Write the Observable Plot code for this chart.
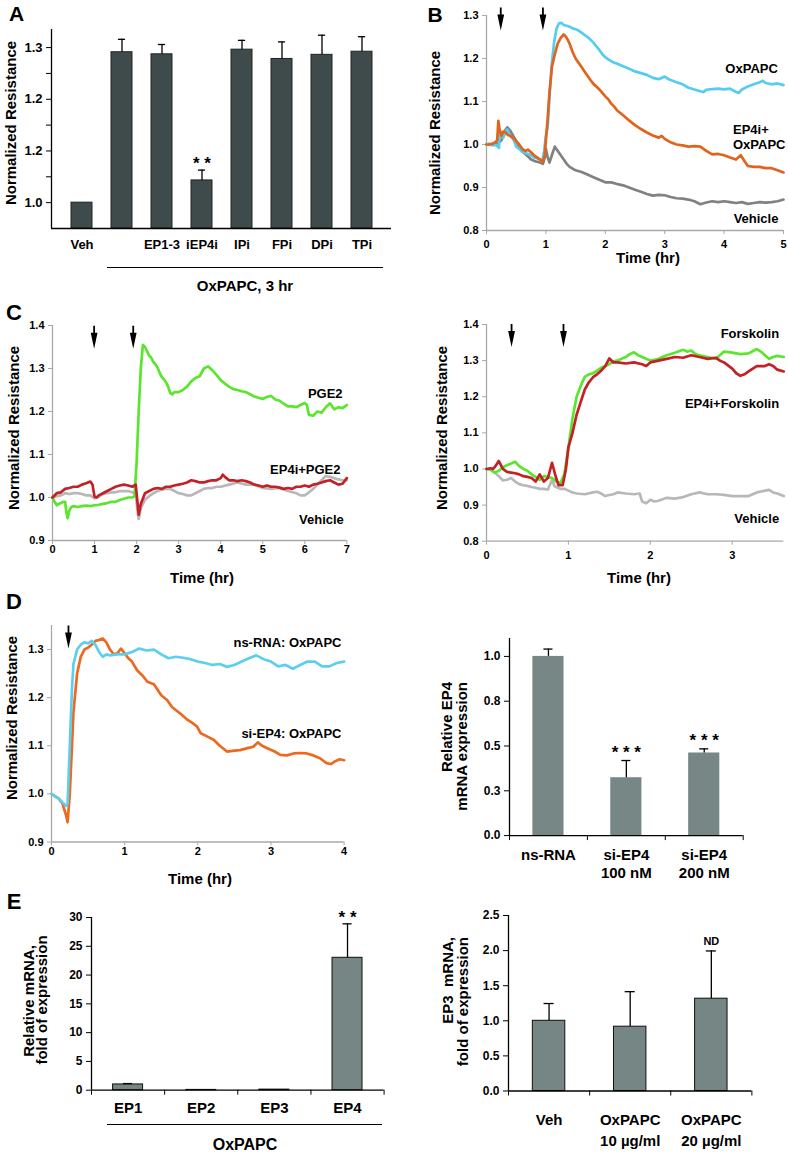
<!DOCTYPE html>
<html><head><meta charset="utf-8">
<script src="https://cdn.jsdelivr.net/npm/d3@7"></script>
<script src="https://cdn.jsdelivr.net/npm/@observablehq/plot@0.6"></script>
<style>
html,body{margin:0;padding:0;background:#fff}
#root{position:relative;width:788px;height:1154px;overflow:hidden;font-family:"Liberation Sans",Arial,Helvetica,sans-serif;font-weight:bold;color:#000;background:#fff}
#root svg{position:absolute;max-width:none}
.t{position:absolute;white-space:nowrap;line-height:1}
.hl{position:absolute;height:0;border-top:1.3px solid #000}
</style></head><body><div id="root"></div>
<script>
// ================= DATA =================
// Panel A
const catsA = ["Veh", "OxPAPC", "EP1-3", "iEP4i", "IPi", "FPi", "DPi", "TPi"];
const tickLabelsA = ["Veh", "", "EP1-3", "iEP4i", "IPi", "FPi", "DPi", "TPi"];
const meansA = [1.0, 1.291, 1.287, 1.043, 1.296, 1.278, 1.286, 1.292];
const errTopA = [null, 1.316, 1.306, 1.063, 1.314, 1.311, 1.324, 1.321];
const starsA = ["", "", "", "* *", "", "", "", ""];
const yTicksA = [1.0, 1.1, 1.2, 1.3];
const yTickLabelsA = ["1.0", "1.2", "1.2", "1.3"];
const yMinorTicksA = [1.05, 1.15, 1.25];

// Panel B (time hr, normalized resistance)
const arrowsB = [0.24, 0.95];
const namesB = ["OxPAPC", "EP4i+\nOxPAPC", "Vehicle"];
const bOxPAPC = [[0,1.0],[0.05,1.002],[0.1,0.998],[0.15,1.0],[0.19,0.995],[0.21,0.992],[0.22,1.028],[0.25,1.02],[0.28,1.015],[0.32,1.03],[0.35,1.035],[0.38,1.025],[0.42,1.018],[0.46,1.01],[0.5,0.995],[0.55,0.99],[0.6,0.983],[0.65,0.98],[0.7,0.978],[0.75,0.975],[0.8,0.97],[0.85,0.968],[0.9,0.965],[0.94,0.962],[0.97,0.985],[1.0,1.02],[1.03,1.04],[1.06,1.11],[1.1,1.19],[1.14,1.24],[1.18,1.27],[1.22,1.282],[1.26,1.283],[1.3,1.278],[1.35,1.276],[1.4,1.274],[1.45,1.27],[1.5,1.268],[1.55,1.265],[1.6,1.26],[1.65,1.255],[1.7,1.25],[1.75,1.244],[1.8,1.237],[1.85,1.228],[1.9,1.22],[1.95,1.21],[2.0,1.203],[2.05,1.198],[2.1,1.194],[2.15,1.19],[2.2,1.188],[2.3,1.182],[2.4,1.176],[2.5,1.17],[2.6,1.166],[2.7,1.162],[2.8,1.155],[2.9,1.152],[3.0,1.158],[3.05,1.153],[3.1,1.15],[3.2,1.145],[3.3,1.14],[3.4,1.132],[3.5,1.128],[3.6,1.124],[3.65,1.122],[3.7,1.127],[3.8,1.129],[3.9,1.13],[4.0,1.128],[4.1,1.13],[4.2,1.122],[4.25,1.12],[4.3,1.128],[4.4,1.135],[4.5,1.14],[4.6,1.145],[4.65,1.148],[4.7,1.143],[4.8,1.14],[4.9,1.142],[5.0,1.138]];
const bEP4iOxPAPC = [[0,1.0],[0.05,1.0],[0.1,1.002],[0.15,1.005],[0.18,1.01],[0.2,1.055],[0.22,1.035],[0.25,1.02],[0.28,1.03],[0.32,1.028],[0.36,1.022],[0.4,1.02],[0.45,1.015],[0.5,1.008],[0.55,1.0],[0.6,0.99],[0.65,0.985],[0.7,0.988],[0.75,0.982],[0.8,0.975],[0.85,0.97],[0.9,0.965],[0.95,0.96],[0.98,0.975],[1.0,1.01],[1.03,1.06],[1.06,1.12],[1.1,1.18],[1.15,1.21],[1.2,1.235],[1.25,1.248],[1.3,1.256],[1.33,1.252],[1.37,1.243],[1.4,1.234],[1.45,1.215],[1.5,1.2],[1.55,1.19],[1.6,1.18],[1.65,1.17],[1.7,1.16],[1.75,1.15],[1.8,1.141],[1.85,1.135],[1.9,1.128],[1.95,1.12],[2.0,1.112],[2.05,1.105],[2.1,1.095],[2.15,1.088],[2.2,1.079],[2.3,1.068],[2.4,1.056],[2.5,1.045],[2.6,1.036],[2.7,1.028],[2.8,1.021],[2.9,1.016],[2.95,1.02],[3.0,1.013],[3.1,1.005],[3.2,1.0],[3.3,0.998],[3.4,0.995],[3.5,0.996],[3.6,0.995],[3.7,0.985],[3.8,0.977],[3.9,0.978],[4.0,0.975],[4.1,0.97],[4.2,0.965],[4.28,0.975],[4.35,0.96],[4.4,0.95],[4.5,0.948],[4.6,0.948],[4.7,0.945],[4.8,0.945],[4.9,0.94],[5.0,0.935]];
const bVehicle = [[0,1.0],[0.1,1.0],[0.2,1.003],[0.25,1.01],[0.3,1.03],[0.35,1.04],[0.4,1.032],[0.45,1.02],[0.5,1.008],[0.55,0.995],[0.6,0.985],[0.65,0.978],[0.7,0.972],[0.75,0.965],[0.8,0.962],[0.85,0.96],[0.9,0.958],[0.95,0.955],[0.98,0.97],[1.0,0.99],[1.03,0.97],[1.06,0.958],[1.1,0.975],[1.15,0.995],[1.2,0.985],[1.25,0.975],[1.3,0.965],[1.35,0.955],[1.4,0.948],[1.5,0.94],[1.6,0.936],[1.7,0.93],[1.8,0.924],[1.9,0.918],[2.0,0.912],[2.1,0.912],[2.2,0.908],[2.3,0.905],[2.4,0.9],[2.5,0.895],[2.6,0.89],[2.7,0.885],[2.8,0.881],[2.9,0.883],[3.0,0.882],[3.1,0.878],[3.2,0.875],[3.3,0.874],[3.4,0.872],[3.5,0.868],[3.6,0.861],[3.7,0.865],[3.8,0.868],[3.9,0.866],[4.0,0.868],[4.1,0.866],[4.2,0.864],[4.3,0.866],[4.4,0.862],[4.5,0.864],[4.6,0.866],[4.7,0.865],[4.8,0.866],[4.9,0.868],[5.0,0.872]];

// Panel C left
const arrowsCL = [0.99, 1.92];
const namesCL = ["PGE2", "EP4i+PGE2", "Vehicle"];
const cPGE2 = [[0,1.0],[0.05,0.99],[0.1,0.982],[0.15,0.985],[0.2,0.987],[0.25,0.99],[0.3,0.99],[0.33,0.965],[0.36,0.952],[0.4,0.97],[0.45,0.978],[0.5,0.98],[0.6,0.978],[0.7,0.98],[0.8,0.981],[0.9,0.98],[1.0,0.982],[1.1,0.983],[1.2,0.985],[1.3,0.987],[1.4,0.99],[1.5,0.99],[1.6,0.994],[1.7,0.997],[1.8,1.0],[1.9,1.0],[1.95,1.003],[2.0,1.08],[2.05,1.2],[2.1,1.3],[2.15,1.355],[2.2,1.35],[2.25,1.34],[2.3,1.33],[2.35,1.325],[2.4,1.315],[2.45,1.31],[2.5,1.302],[2.55,1.29],[2.6,1.28],[2.65,1.275],[2.7,1.268],[2.75,1.258],[2.8,1.243],[2.85,1.24],[2.9,1.245],[3.0,1.245],[3.1,1.25],[3.2,1.258],[3.3,1.27],[3.4,1.278],[3.5,1.282],[3.6,1.3],[3.7,1.305],[3.8,1.296],[3.9,1.285],[4.0,1.273],[4.1,1.265],[4.2,1.258],[4.3,1.252],[4.4,1.25],[4.5,1.247],[4.6,1.245],[4.7,1.24],[4.8,1.235],[4.9,1.232],[5.0,1.229],[5.1,1.234],[5.2,1.236],[5.3,1.228],[5.4,1.225],[5.5,1.218],[5.6,1.212],[5.7,1.212],[5.8,1.21],[5.9,1.215],[6.0,1.22],[6.05,1.215],[6.1,1.192],[6.2,1.19],[6.25,1.195],[6.3,1.2],[6.4,1.197],[6.5,1.21],[6.6,1.219],[6.65,1.212],[6.7,1.205],[6.8,1.21],[6.9,1.208],[7.0,1.215]];
const cEP4iPGE2 = [[0,1.0],[0.1,1.01],[0.2,1.012],[0.3,1.02],[0.4,1.022],[0.5,1.025],[0.6,1.025],[0.7,1.03],[0.8,1.033],[0.9,1.037],[0.95,1.03],[1.0,1.002],[1.05,1.0],[1.1,1.005],[1.2,1.01],[1.3,1.015],[1.4,1.02],[1.5,1.025],[1.6,1.028],[1.7,1.03],[1.8,1.028],[1.9,1.025],[1.98,1.03],[2.02,0.99],[2.05,0.96],[2.1,0.985],[2.2,1.01],[2.3,1.015],[2.4,1.02],[2.5,1.022],[2.6,1.02],[2.7,1.025],[2.8,1.025],[2.9,1.028],[3.0,1.03],[3.1,1.032],[3.2,1.035],[3.3,1.04],[3.4,1.038],[3.5,1.035],[3.6,1.035],[3.7,1.038],[3.8,1.04],[3.9,1.04],[4.0,1.045],[4.05,1.053],[4.1,1.048],[4.2,1.04],[4.3,1.04],[4.4,1.038],[4.5,1.04],[4.6,1.038],[4.7,1.035],[4.8,1.03],[4.9,1.028],[5.0,1.025],[5.1,1.028],[5.2,1.025],[5.3,1.025],[5.4,1.023],[5.5,1.02],[5.6,1.022],[5.7,1.02],[5.8,1.025],[5.9,1.025],[6.0,1.028],[6.1,1.025],[6.2,1.03],[6.3,1.032],[6.4,1.035],[6.5,1.038],[6.6,1.04],[6.7,1.035],[6.8,1.03],[6.9,1.032],[7.0,1.045]];
const cVehicleL = [[0,1.0],[0.1,1.003],[0.2,1.005],[0.3,1.01],[0.4,1.008],[0.5,1.01],[0.6,1.01],[0.7,1.008],[0.8,1.005],[0.9,1.005],[1.0,0.998],[1.1,1.002],[1.2,1.008],[1.3,1.01],[1.4,1.012],[1.5,1.012],[1.6,1.015],[1.7,1.015],[1.8,1.015],[1.9,1.012],[1.98,1.01],[2.02,0.97],[2.05,0.95],[2.1,0.975],[2.2,0.995],[2.3,1.003],[2.4,1.01],[2.5,1.015],[2.6,1.018],[2.7,1.02],[2.8,1.02],[2.9,1.015],[3.0,1.01],[3.1,1.008],[3.2,1.005],[3.3,1.005],[3.4,1.01],[3.5,1.015],[3.6,1.02],[3.7,1.022],[3.8,1.022],[3.9,1.025],[4.0,1.025],[4.2,1.03],[4.4,1.035],[4.6,1.03],[4.8,1.03],[5.0,1.022],[5.2,1.02],[5.4,1.022],[5.6,1.015],[5.8,1.01],[5.9,1.005],[6.0,1.005],[6.1,1.012],[6.2,1.02],[6.3,1.03],[6.4,1.04],[6.5,1.05],[6.6,1.048],[6.7,1.045],[6.8,1.042],[6.9,1.04],[7.0,1.04]];

// Panel C right
const arrowsCR = [0.306, 0.94];
const namesCR = ["Forskolin", "EP4i+Forskolin", "Vehicle"];
const cForskolin = [[0,1.0],[0.05,0.998],[0.1,0.99],[0.15,0.995],[0.2,1.005],[0.25,1.01],[0.3,1.015],[0.35,1.02],[0.4,1.008],[0.45,1.0],[0.5,0.995],[0.55,0.985],[0.6,0.978],[0.65,0.97],[0.7,0.98],[0.75,0.978],[0.8,0.975],[0.85,0.965],[0.9,0.96],[0.95,0.985],[1.0,1.06],[1.05,1.14],[1.1,1.2],[1.15,1.23],[1.2,1.255],[1.25,1.262],[1.3,1.265],[1.35,1.272],[1.4,1.28],[1.45,1.285],[1.5,1.29],[1.55,1.298],[1.6,1.3],[1.65,1.305],[1.7,1.31],[1.75,1.318],[1.8,1.323],[1.85,1.315],[1.9,1.31],[1.95,1.305],[2.0,1.3],[2.05,1.302],[2.1,1.305],[2.2,1.315],[2.3,1.322],[2.4,1.33],[2.45,1.325],[2.5,1.328],[2.55,1.318],[2.6,1.315],[2.7,1.31],[2.8,1.305],[2.85,1.315],[2.9,1.325],[3.0,1.322],[3.1,1.318],[3.2,1.32],[3.3,1.332],[3.35,1.325],[3.4,1.315],[3.45,1.305],[3.5,1.31],[3.55,1.313],[3.63,1.31]];
const cEP4iForskolin = [[0,1.0],[0.05,1.002],[0.08,1.0],[0.1,1.005],[0.15,1.022],[0.2,1.0],[0.25,0.992],[0.3,0.99],[0.35,0.988],[0.4,0.985],[0.45,0.98],[0.5,0.978],[0.55,0.975],[0.6,0.965],[0.65,0.985],[0.7,0.965],[0.75,0.975],[0.8,1.017],[0.85,0.975],[0.88,0.955],[0.93,0.955],[0.97,1.0],[1.0,1.06],[1.05,1.1],[1.1,1.15],[1.15,1.185],[1.2,1.22],[1.25,1.24],[1.3,1.254],[1.35,1.262],[1.4,1.272],[1.45,1.285],[1.5,1.306],[1.55,1.295],[1.6,1.295],[1.7,1.292],[1.8,1.295],[1.9,1.29],[1.95,1.285],[2.0,1.295],[2.1,1.3],[2.2,1.305],[2.3,1.31],[2.4,1.308],[2.5,1.315],[2.6,1.31],[2.7,1.305],[2.8,1.308],[2.85,1.3],[2.9,1.295],[3.0,1.278],[3.05,1.265],[3.1,1.258],[3.15,1.262],[3.2,1.27],[3.3,1.285],[3.4,1.285],[3.45,1.29],[3.5,1.285],[3.55,1.275],[3.63,1.27]];
const cVehicleR = [[0,1.0],[0.05,0.998],[0.1,0.99],[0.15,0.98],[0.2,0.968],[0.25,0.97],[0.3,0.975],[0.35,0.965],[0.4,0.958],[0.45,0.955],[0.5,0.953],[0.55,0.95],[0.6,0.948],[0.65,0.945],[0.7,0.945],[0.75,0.943],[0.8,0.97],[0.83,0.952],[0.9,0.945],[0.95,0.945],[1.0,0.94],[1.05,0.935],[1.1,0.932],[1.2,0.93],[1.3,0.935],[1.35,0.937],[1.4,0.932],[1.45,0.925],[1.5,0.928],[1.55,0.93],[1.6,0.935],[1.7,0.932],[1.8,0.93],[1.87,0.932],[1.9,0.91],[1.95,0.905],[2.0,0.915],[2.05,0.91],[2.1,0.912],[2.2,0.92],[2.3,0.918],[2.4,0.922],[2.5,0.93],[2.6,0.935],[2.7,0.93],[2.8,0.93],[2.9,0.928],[3.0,0.925],[3.1,0.925],[3.2,0.925],[3.3,0.935],[3.4,0.94],[3.45,0.942],[3.5,0.935],[3.55,0.932],[3.63,0.925]];

// Panel D left
const arrowsDL = [0.232];
const namesDL = ["ns-RNA: OxPAPC", "si-EP4: OxPAPC"];
const dNsRNA = [[0,1.0],[0.05,0.995],[0.1,0.99],[0.15,0.982],[0.2,0.975],[0.22,0.98],[0.25,1.1],[0.28,1.22],[0.3,1.27],[0.35,1.3],[0.4,1.31],[0.45,1.315],[0.5,1.313],[0.55,1.318],[0.6,1.31],[0.65,1.295],[0.7,1.285],[0.75,1.29],[0.8,1.288],[0.9,1.29],[1.0,1.29],[1.1,1.295],[1.2,1.302],[1.3,1.298],[1.4,1.3],[1.5,1.29],[1.6,1.282],[1.7,1.285],[1.8,1.283],[1.9,1.28],[2.0,1.275],[2.1,1.272],[2.2,1.268],[2.3,1.27],[2.4,1.264],[2.5,1.268],[2.6,1.275],[2.7,1.282],[2.8,1.288],[2.9,1.28],[3.0,1.275],[3.1,1.265],[3.2,1.268],[3.3,1.26],[3.4,1.268],[3.5,1.275],[3.6,1.275],[3.7,1.265],[3.8,1.265],[3.9,1.272],[4.0,1.275]];
const dSiEP4 = [[0,1.0],[0.05,0.995],[0.1,0.99],[0.15,0.98],[0.2,0.955],[0.22,0.941],[0.25,1.0],[0.28,1.1],[0.3,1.17],[0.35,1.25],[0.4,1.285],[0.45,1.3],[0.5,1.304],[0.55,1.31],[0.6,1.318],[0.65,1.32],[0.7,1.323],[0.75,1.315],[0.8,1.3],[0.85,1.29],[0.9,1.292],[0.95,1.302],[1.0,1.292],[1.05,1.282],[1.1,1.275],[1.17,1.257],[1.25,1.245],[1.31,1.233],[1.4,1.228],[1.5,1.205],[1.58,1.195],[1.65,1.18],[1.76,1.167],[1.85,1.155],[1.92,1.148],[1.99,1.14],[2.04,1.126],[2.12,1.12],[2.22,1.112],[2.3,1.1],[2.4,1.088],[2.5,1.09],[2.58,1.091],[2.68,1.095],[2.76,1.098],[2.82,1.107],[2.88,1.1],[2.95,1.095],[3.05,1.088],[3.13,1.081],[3.22,1.08],[3.31,1.084],[3.4,1.085],[3.49,1.084],[3.58,1.08],[3.67,1.074],[3.76,1.064],[3.82,1.062],[3.88,1.068],[3.94,1.072],[4.0,1.07]];

// Panel D right
const catsDR = ["ns-RNA", "si-EP4\n100 nM", "si-EP4\n200 nM"];
const meansDR = [1.0, 0.323, 0.461];
const errTopDR = [1.041, 0.419, 0.484];
const starsDR = ["", "* * *", "* * *"];
const yTicksDR = [0, 0.25, 0.5, 0.75, 1.0];
const yTickLabelsDR = ["0.0", "0.3", "0.5", "0.8", "1.0"];

// Panel E left
const catsEL = ["EP1", "EP2", "EP3", "EP4"];
const meansEL = [1.0, 0.05, 0.1, 23.0];
const errTopEL = [1.15, null, null, 28.9];
const starsEL = ["", "", "", "* *"];
const yTicksEL = [0, 5, 10, 15, 20, 25, 30];

// Panel E right
const catsER = ["Veh", "OxPAPC\n10 µg/ml", "OxPAPC\n20 µg/ml"];
const meansER = [1.0, 0.916, 1.315];
const errTopER = [1.246, 1.415, 1.995];
const notesER = ["", "", "ND"];
const yTicksER = [0, 0.5, 1.0, 1.5, 2.0, 2.5];

// ================= RENDERING =================
const FONT = '"Liberation Sans", Arial, Helvetica, sans-serif';
const AX = "#a8a8a8";
const root = document.getElementById("root");

function baseStyle(fs) {
  return {fontFamily: FONT, fontWeight: "bold", fontSize: fs + "px", color: "#000", background: "transparent", overflow: "visible"};
}
function place(svg, left, top) {
  svg.style.left = left + "px";
  svg.style.top = top + "px";
  root.appendChild(svg);
}
function addText(html, x, y, size, mode) {
  const d = document.createElement("div");
  d.className = "t";
  d.innerHTML = html;
  d.style.left = x + "px";
  d.style.top = y + "px";
  d.style.fontSize = size + "px";
  if (mode === "rot") d.style.transform = "translate(-50%,-50%) rotate(-90deg)";
  else if (mode === "rotEnd") { d.style.transformOrigin = "0 0"; d.style.transform = "rotate(-90deg) translate(-100%,-50%)"; }
  else d.style.transform = "translate(-50%,-50%)";
  root.appendChild(d);
}
function addLine(x1, x2, y) {
  const d = document.createElement("div");
  d.className = "hl";
  d.style.left = x1 + "px"; d.style.width = (x2 - x1) + "px"; d.style.top = y + "px";
  root.appendChild(d);
}

// narrow downward arrow (shaft + long head), tip at the anchor point
const arrowSymbol = {
  draw(ctx) {
    ctx.moveTo(-0.9, -23); ctx.lineTo(0.9, -23); ctx.lineTo(0.9, -16);
    ctx.lineTo(3.4, -16); ctx.lineTo(0, 0); ctx.lineTo(-3.4, -16);
    ctx.lineTo(-0.9, -16); ctx.closePath();
  }
};

function lineChart(c) {
  const m = {l: 40, r: 30, t: 30, b: 30};
  const marks = [
    Plot.ruleY([c.yDomain[0]], {stroke: AX, strokeWidth: 1.3}),
    Plot.ruleX([c.xDomain[0]], {stroke: AX, strokeWidth: 1.3}),
    Plot.axisX({ticks: c.xTicks, tickSize: 4, tickPadding: c.xPad, stroke: AX, fill: "#000", tickFormat: d3.format("d"), label: null}),
    Plot.axisY({ticks: c.yTicks, tickSize: 4, tickPadding: 4, stroke: AX, fill: "#000", tickFormat: d3.format(".1f"), label: null}),
    ...c.series.map(s => Plot.line(s.data, {x: d => d[0], y: d => d[1], stroke: s.color, strokeWidth: 2.7, strokeLinejoin: "round", strokeLinecap: "round"})),
    Plot.dot(c.arrows, {x: d => d, y: () => c.arrowTip, symbol: arrowSymbol, fill: "#000", stroke: "none"}),
    ...c.labels.map(L => Plot.text([L], {x: "x", y: "y", text: "text", textAnchor: L.anchor, lineHeight: 1.2, fontSize: 13, fontWeight: "bold", fill: "#000"}))
  ];
  const svg = Plot.plot({
    width: m.l + (c.x1 - c.x0) + m.r, height: m.t + (c.yB - c.yT) + m.b,
    marginLeft: m.l, marginRight: m.r, marginTop: m.t, marginBottom: m.b,
    x: {domain: c.xDomain}, y: {domain: c.yDomain},
    style: baseStyle(11), marks
  });
  place(svg, c.x0 - m.l, c.yT - m.t);
}

function barChart(c) {
  const m = {l: 45, r: 20, t: 30, b: 50};
  const data = c.cats.map((cat, i) => ({i, label: c.labels[i], v: c.means[i], e: c.errs[i], s: c.stars[i]}));
  const errData = data.filter(d => d.e != null);
  const starData = data.filter(d => d.s);
  const marks = [
    Plot.rect(data, {x1: d => d.i - c.hw, x2: d => d.i + c.hw, y1: c.yDomain[0], y2: "v", fill: c.fill, stroke: c.stroke, strokeWidth: 1}),
    Plot.ruleX(errData, {x: "i", y1: "v", y2: "e", stroke: "#000", strokeWidth: 1.3}),
    Plot.ruleY(errData, {y: "e", x1: d => d.i - c.cap, x2: d => d.i + c.cap, stroke: "#000", strokeWidth: 1.3}),
    Plot.ruleY([c.yDomain[0]], {stroke: "#000", strokeWidth: 1.3}),
    Plot.ruleX([c.xDomain[0]], {stroke: "#000", strokeWidth: 1.3}),
    Plot.axisY({ticks: c.yTicks, tickSize: 5, tickPadding: 4, stroke: "#000", fill: "#000", tickFormat: c.yFormat, label: null}),
    Plot.text(data, {x: "i", frameAnchor: "bottom", text: "label", lineAnchor: c.labelAnchor, dy: c.labelDy, lineHeight: c.lineHeight, fontSize: c.labelFS, fontWeight: "bold", fill: "#000"}),
    Plot.text(starData, {x: "i", y: "e", text: "s", dy: c.starDy, fontSize: c.starFS, fontWeight: "bold", fill: "#000"})
  ];
  if (c.yMinor) marks.push(Plot.axisY({ticks: c.yMinor, tickSize: 5, stroke: "#000", tickFormat: () => "", label: null}));
  if (c.bounds) marks.push(Plot.axisX({ticks: c.bounds, tickSize: 5, stroke: "#000", tickFormat: () => "", label: null}));
  const svg = Plot.plot({
    width: m.l + (c.x1 - c.x0) + m.r, height: m.t + (c.yB - c.yT) + m.b,
    marginLeft: m.l, marginRight: m.r, marginTop: m.t, marginBottom: m.b,
    x: c.bounds ? {domain: c.xDomain} : {domain: c.xDomain, axis: null},
    y: {domain: c.yDomain},
    style: baseStyle(c.tickFS), marks
  });
  place(svg, c.x0 - m.l, c.yT - m.t);
}

// ---- Panel A ----
barChart({
  x0: 51, x1: 391, yT: 29, yB: 228, xDomain: [-0.7625, 7.7375], yDomain: [0.95, 1.335],
  cats: catsA, labels: tickLabelsA, means: meansA, errs: errTopA, stars: starsA,
  hw: 0.2625, cap: 0.09, fill: "#3f4a4a", stroke: "#1d2424",
  yTicks: yTicksA, yFormat: d => yTickLabelsA[yTicksA.indexOf(d)], yMinor: yMinorTicksA,
  labelAnchor: "middle", labelDy: 16, lineHeight: 1, labelFS: 13, tickFS: 13,
  starDy: -6.4, starFS: 17
});

// ---- Panel B ----
lineChart({
  x0: 485.7, x1: 782.7, yT: 15, yB: 230, xDomain: [0, 5], yDomain: [0.8, 1.3],
  xTicks: [0, 1, 2, 3, 4, 5], yTicks: [0.8, 0.9, 1.0, 1.1, 1.2, 1.3], xPad: 6,
  series: [{data: bVehicle, color: "#808282"}, {data: bOxPAPC, color: "#55cdf0"}, {data: bEP4iOxPAPC, color: "#e2631c"}],
  arrows: arrowsB, arrowTip: 1.265,
  labels: [
    {text: namesB[0], x: 4.905, y: 1.179, anchor: "end"},
    {text: namesB[1], x: 4.15, y: 1.019, anchor: "start"},
    {text: namesB[2], x: 4.915, y: 0.830, anchor: "end"}
  ]
});

// ---- Panel C left ----
lineChart({
  x0: 51.7, x1: 346, yT: 325, yB: 540, xDomain: [0, 7], yDomain: [0.9, 1.4],
  xTicks: [0, 1, 2, 3, 4, 5, 6, 7], yTicks: [0.9, 1.0, 1.1, 1.2, 1.3, 1.4], xPad: 1,
  series: [{data: cVehicleL, color: "#b8b8b8"}, {data: cPGE2, color: "#5ae52e"}, {data: cEP4iPGE2, color: "#c42126"}],
  arrows: arrowsCL, arrowTip: 1.346,
  labels: [
    {text: namesCL[0], x: 6.9, y: 1.244, anchor: "end"},
    {text: namesCL[1], x: 6.85, y: 1.067, anchor: "end"},
    {text: namesCL[2], x: 6.93, y: 0.951, anchor: "end"}
  ]
});

// ---- Panel C right ----
lineChart({
  x0: 485.7, x1: 783, yT: 324.3, yB: 541, xDomain: [0, 3.63], yDomain: [0.8, 1.4],
  xTicks: [0, 1, 2, 3], yTicks: [0.8, 0.9, 1.0, 1.1, 1.2, 1.3, 1.4], xPad: 6,
  series: [{data: cVehicleR, color: "#b8b8b8"}, {data: cForskolin, color: "#5ae52e"}, {data: cEP4iForskolin, color: "#c42126"}],
  arrows: arrowsCR, arrowTip: 1.338,
  labels: [
    {text: namesCR[0], x: 3.573, y: 1.376, anchor: "end"},
    {text: namesCR[1], x: 3.573, y: 1.182, anchor: "end"},
    {text: namesCR[2], x: 3.573, y: 0.863, anchor: "end"}
  ]
});

// ---- Panel D left ----
lineChart({
  x0: 50.7, x1: 343.3, yT: 625.2, yB: 841.7, xDomain: [0, 4], yDomain: [0.9, 1.35],
  xTicks: [0, 1, 2, 3, 4], yTicks: [0.9, 1.0, 1.1, 1.2, 1.3], xPad: 1,
  series: [{data: dSiEP4, color: "#ec6a20"}, {data: dNsRNA, color: "#5ccff0"}],
  arrows: arrowsDL, arrowTip: 1.302,
  labels: [
    {text: namesDL[0], x: 3.964, y: 1.316, anchor: "end"},
    {text: namesDL[1], x: 3.964, y: 1.126, anchor: "end"}
  ]
});

// ---- Panel D right ----
barChart({
  x0: 509, x1: 742.7, yT: 637.9, yB: 835, xDomain: [-0.5, 2.5], yDomain: [0, 1.1],
  cats: catsDR, labels: catsDR, means: meansDR, errs: errTopDR, stars: starsDR,
  hw: 0.2, cap: 0.058, fill: "#778785", stroke: "none",
  yTicks: yTicksDR, yFormat: d => yTickLabelsDR[yTicksDR.indexOf(d)], bounds: [-0.5, 0.5, 1.5, 2.5],
  labelAnchor: "top", labelDy: 11.3, lineHeight: 1.22, labelFS: 15, tickFS: 12,
  starDy: -8, starFS: 17
});

// ---- Panel E left ----
barChart({
  x0: 90.7, x1: 383.3, yT: 917.3, yB: 1090, xDomain: [-0.5, 3.5], yDomain: [0, 30],
  cats: catsEL, labels: catsEL, means: meansEL, errs: errTopEL, stars: starsEL,
  hw: 0.205, cap: 0.062, fill: "#758684", stroke: "#111",
  yTicks: yTicksEL, yFormat: d3.format("d"), bounds: [-0.5, 0.5, 1.5, 2.5, 3.5],
  labelAnchor: "middle", labelDy: 18, lineHeight: 1, labelFS: 15, tickFS: 12,
  starDy: -6, starFS: 17
});

// ---- Panel E right ----
barChart({
  x0: 508.3, x1: 751.7, yT: 914.5, yB: 1090, xDomain: [-0.5, 2.5], yDomain: [0, 2.5],
  cats: catsER, labels: catsER, means: meansER, errs: errTopER, stars: notesER,
  hw: 0.2, cap: 0.062, fill: "#758684", stroke: "#111",
  yTicks: yTicksER, yFormat: d3.format(".1f"), bounds: [-0.5, 0.5, 1.5, 2.5],
  labelAnchor: "top", labelDy: 19.6, lineHeight: 1.4, labelFS: 15, tickFS: 12,
  starDy: -9, starFS: 11
});

// ---- Titles, panel letters and annotations ----
addText("A", 16.5, 12.5, 21);
addText("B", 435, 13.5, 21);
addText("C", 14, 313, 22);
addText("D", 14, 602, 22);
addText("E", 14, 902, 22);

addText("Normalized Resistance", 10, 123, 15, "rot");
addText("Normalized Resistance", 434, 133, 15, "rot");
addText("Normalized Resistance", 12.5, 428, 15, "rot");
addText("Normalized Resistance", 440.7, 428.3, 15, "rot");
addText("Normalized Resistance", 11, 718, 15, "rot");

addText("Time (hr)", 648, 257, 15);
addText("Time (hr)", 202, 577, 15);
addText("Time (hr)", 639, 577, 15);
addText("Time (hr)", 200, 878, 15);

addLine(107, 383, 267);
addText("OxPAPC, 3 hr", 245, 285, 15);

addText("Relative EP4", 446, 681.7, 15, "rotEnd");
addText("mRNA expression", 460.7, 681.7, 15, "rotEnd");

addText("Relative mRNA,", 27.5, 1001, 15, "rot");
addText("fold of expression", 41, 1000, 15, "rot");
addLine(107, 381.7, 1124.3);
addText("OxPAPC", 245, 1145, 16);

addText("EP3&nbsp;&nbsp;mRNA,", 446.7, 936.7, 15, "rotEnd");
addText("fold of expression", 461.7, 936.7, 15, "rotEnd");
</script></body></html>
